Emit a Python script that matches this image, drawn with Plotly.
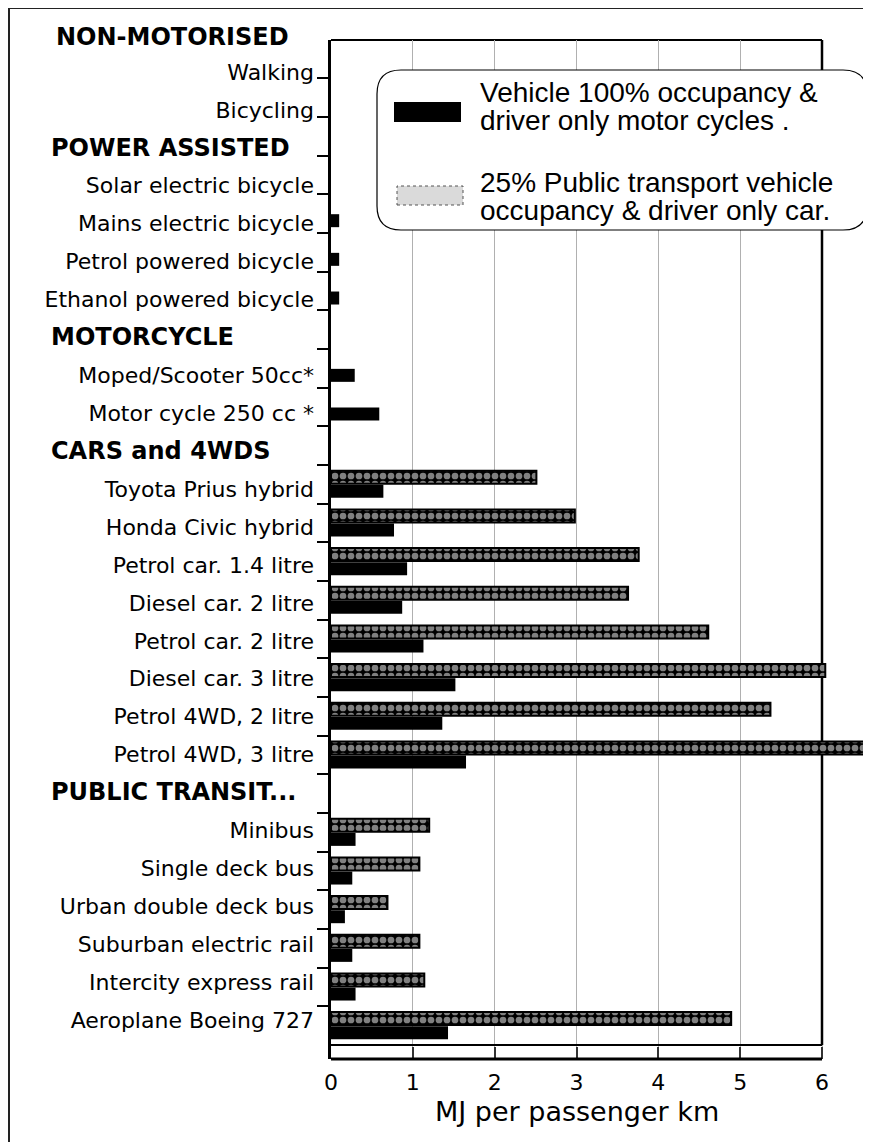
import plotly.graph_objects as go

# rows of the chart, top to bottom
categories = ["Walking", "Bicycling", "POWER ASSISTED", "Solar electric bicycle",
              "Mains electric bicycle", "Petrol powered bicycle", "Ethanol powered bicycle",
              "MOTORCYCLE", "Moped/Scooter 50cc*", "Motor cycle 250 cc *",
              "CARS and 4WDS", "Toyota Prius hybrid", "Honda Civic hybrid",
              "Petrol car. 1.4 litre", "Diesel car. 2 litre", "Petrol car. 2 litre",
              "Diesel car. 3 litre", "Petrol 4WD, 2 litre", "Petrol 4WD, 3 litre",
              "PUBLIC TRANSIT...", "Minibus", "Single deck bus", "Urban double deck bus",
              "Suburban electric rail", "Intercity express rail", "Aeroplane Boeing 727"]
headers = ["POWER ASSISTED", "MOTORCYCLE", "CARS and 4WDS", "PUBLIC TRANSIT..."]
top_header = "NON-MOTORISED"

# MJ per passenger km, 100% occupancy & driver only motor cycles
full_occ = [None, None, None, None, 0.10, 0.10, 0.10,
            None, 0.29, 0.59,
            None, 0.64, 0.77, 0.93, 0.87, 1.13, 1.52, 1.36, 1.65,
            None, 0.30, 0.26, 0.17, 0.26, 0.30, 1.43]
# 25% public transport occupancy & driver only car
part_occ = [None, None, None, None, None, None, None,
            None, None, None,
            None, 2.51, 2.98, 3.76, 3.63, 4.61, 6.04, 5.37, 6.80,
            None, 1.20, 1.08, 0.69, 1.08, 1.14, 4.89]

xticks = [0, 1, 2, 3, 4, 5, 6]
legend_lines = ["Vehicle 100% occupancy &", "driver only motor cycles .",
                "25% Public transport vehicle", "occupancy & driver only car."]

lbl_font = "DejaVu Sans"

# page body has an 8px margin, so work in screen pixels and shift
OFF = 8
W, H = 871 - OFF, 1142 - OFF
L, R, T, B = 331 - OFF, 0, 40 - OFF, 1142 - 1059
plot_h = H - T - B
unit = (822 - 331) / 6.0
xmax = (W - L - R) / unit
n = len(categories)
band = (1045 - 40) / n
extra = (1059 - 1045) / band

# the label column is spaced a little tighter than the bars
lbl_step = (1020 - 72) / (n - 1)
lbl_top = -(72 - 40) / lbl_step
lbl_bot = lbl_top + plot_h / lbl_step

def px(x):
    return (x - OFF - L) / (W - L - R)

def py(y):
    return (H - B - (y - OFF)) / plot_h

ticktext = ["" if c in headers else c for c in categories]

fig = go.Figure()
fig.add_trace(go.Bar(y=categories, x=part_occ, orientation="h", name=legend_lines[2],
                     marker=dict(color="black", line=dict(color="black", width=2),
                                 pattern=dict(shape=".", fgcolor="white", bgcolor="black",
                                              size=8, solidity=0.55))))
fig.add_trace(go.Bar(y=categories, x=full_occ, orientation="h", name=legend_lines[0],
                     marker=dict(color="black", line=dict(width=0))))
# invisible carrier for the label axis
fig.add_trace(go.Scatter(y=categories, x=[0] * n, yaxis="y2", mode="markers",
                         marker=dict(opacity=0, size=1), hoverinfo="skip",
                         showlegend=False))

fig.update_layout(
    width=W, height=H, margin=dict(l=L, r=R, t=T, b=B),
    paper_bgcolor="white", plot_bgcolor="white", showlegend=False,
    barmode="group", bargap=0.27, bargroupgap=0.08,
    font=dict(family=lbl_font, color="black"),
)
fig.update_xaxes(range=[0, xmax], tickvals=xticks, ticktext=[str(t) for t in xticks],
                 showgrid=True, gridcolor="#b0b0b0", gridwidth=1, zeroline=False,
                 showline=False, ticks="inside", ticklen=12, tickwidth=1.5,
                 tickcolor="#333", tickfont=dict(size=22, family=lbl_font),
                 ticklabelstandoff=8)
fig.update_layout(
    yaxis=dict(type="category", categoryorder="array", categoryarray=categories,
               range=[n - 0.5 + extra, -0.49], showticklabels=False,
               showgrid=False, zeroline=False, showline=True, linewidth=3,
               linecolor="black", ticks="outside", tickson="boundaries",
               ticklen=11, tickwidth=2, tickcolor="black"),
    yaxis2=dict(type="category", categoryorder="array", categoryarray=categories,
                overlaying="y", side="left", range=[lbl_bot, lbl_top],
                tickvals=categories, ticktext=ticktext, showgrid=False,
                zeroline=False, showline=False, ticks="",
                tickfont=dict(size=22, family=lbl_font), ticklabelstandoff=16),
)

shapes = [
    # plot frame top, bottom and right spine
    dict(type="line", xref="x", yref="paper", x0=0, x1=6, y0=1, y1=1,
         line=dict(color="black", width=2), layer="between"),
    dict(type="line", xref="x", yref="y", x0=0, x1=6, y0=n - 0.5, y1=n - 0.5,
         line=dict(color="black", width=2), layer="between"),
    dict(type="line", xref="x", yref="y", x0=6, x1=6, y0=-0.5, y1=n - 0.5,
         line=dict(color="black", width=2.5), layer="between"),
    # x axis line
    dict(type="line", xref="x", yref="paper", x0=0, x1=6, y0=0, y1=0,
         line=dict(color="black", width=3)),
    # outer frame
    dict(type="rect", xref="paper", yref="paper", x0=px(9), x1=1.05, y0=-0.2, y1=py(8),
         line=dict(color="#222", width=2)),
]

# legend box with rounded corners
x0, x1, y0, y1 = px(377), px(867), py(230), py(70)
rx, ry = 24 / (W - L - R), 24 / plot_h
path = (f"M {x0+rx},{y1} L {x1-rx},{y1} Q {x1},{y1} {x1},{y1-ry} L {x1},{y0+ry} "
        f"Q {x1},{y0} {x1-rx},{y0} L {x0+rx},{y0} Q {x0},{y0} {x0},{y0+ry} "
        f"L {x0},{y1-ry} Q {x0},{y1} {x0+rx},{y1} Z")
shapes.append(dict(type="path", xref="paper", yref="paper", path=path,
                   fillcolor="white", line=dict(color="black", width=1.2), layer="above"))
shapes.append(dict(type="rect", xref="paper", yref="paper", x0=px(394), x1=px(461),
                   y0=py(122), y1=py(102), fillcolor="black", line=dict(width=0),
                   layer="above"))
shapes.append(dict(type="rect", xref="paper", yref="paper", x0=px(397), x1=px(463),
                   y0=py(205), y1=py(186), fillcolor="#dadada",
                   line=dict(color="#555", width=1, dash="dot"), layer="above"))
fig.update_layout(shapes=shapes)

for txt, yy in zip(legend_lines, [93, 120, 183, 210]):
    fig.add_annotation(text=txt, xref="paper", yref="paper", x=px(478), y=py(yy),
                       xanchor="left", yanchor="middle", showarrow=False,
                       font=dict(family="Liberation Sans", size=28, color="black"))

# section headers, left aligned in the label column
hdr_font = dict(family=lbl_font, size=24, color="black")
fig.add_annotation(text="<b>" + top_header + "</b>", xref="paper", yref="paper",
                   x=px(54), y=py(37), xanchor="left", yanchor="middle",
                   showarrow=False, font=hdr_font)
for h in headers:
    fig.add_annotation(text="<b>" + h + "</b>", xref="paper", yref="y2",
                       x=px(49), y=h, xanchor="left", yanchor="middle",
                       showarrow=False, font=hdr_font)

fig.add_annotation(text="MJ per passenger km", xref="x", yref="paper", x=3,
                   y=py(1111), xanchor="center", yanchor="middle", showarrow=False,
                   font=dict(family=lbl_font, size=27))

fig.write_html("out.html")
